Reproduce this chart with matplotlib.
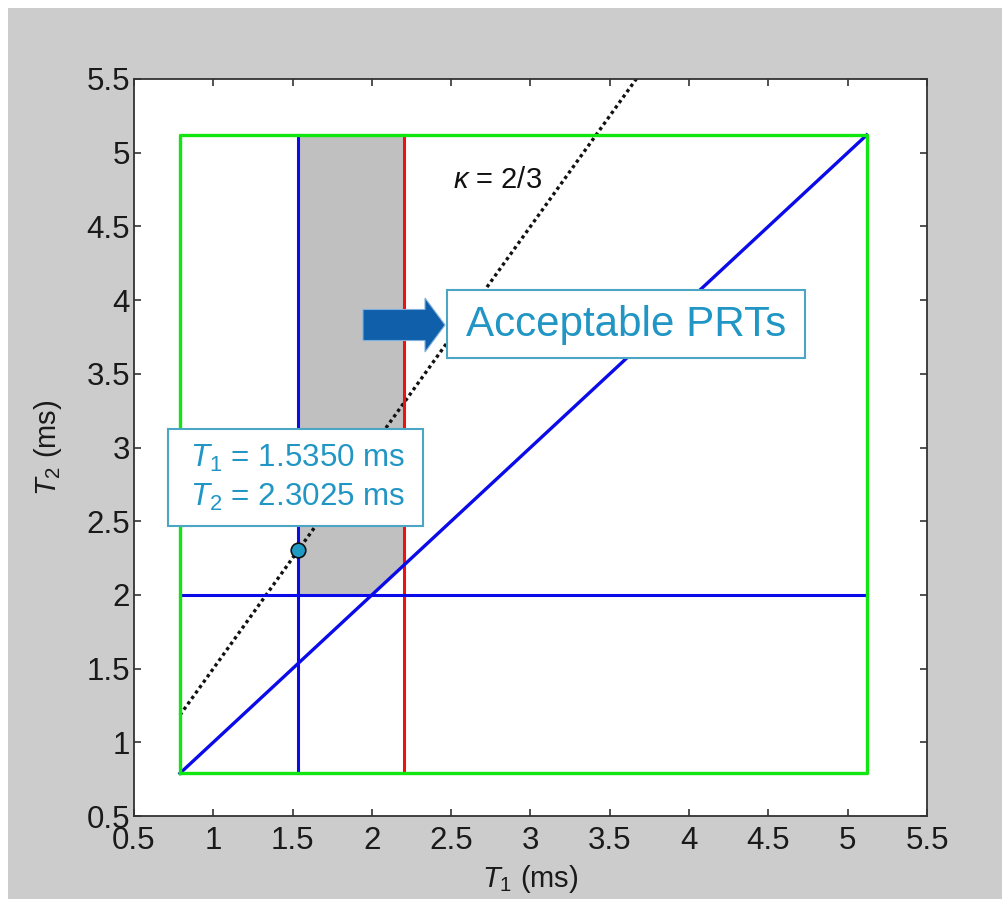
"""Dual-PRT selection chart: T1/T2 acceptable region."""

import matplotlib
matplotlib.use("Agg")
import matplotlib.pyplot as plt
from matplotlib.patches import Rectangle, FancyArrow

plt.rcParams["font.family"] = ["Liberation Sans", "DejaVu Sans"]
plt.rcParams["mathtext.fontset"] = "custom"
plt.rcParams["mathtext.rm"] = "Liberation Sans"
plt.rcParams["mathtext.it"] = "Liberation Sans:italic"

# ── data (ms) ─────────────────────────────────────────────────────────────
box_t1 = [0.79, 5.12, 5.12, 0.79, 0.79]      # green limits
box_t2 = [0.79, 0.79, 5.12, 5.12, 0.79]
diag_t1 = [0.79, 5.12]                        # T2 = T1
diag_t2 = [0.79, 5.12]
t1_min = 1.535                                # blue vertical
t1_max = 2.2                                  # red vertical
t2_min = 2.0                                  # blue horizontal
kappa_t1 = [0.79, 3.70]                       # kappa = 2/3 line
kappa_t2 = [1.185, 5.55]
region_t1 = [1.535, 2.0, 2.2, 2.2, 1.535]     # shaded acceptable PRTs
region_t2 = [2.0, 2.0, 2.2, 5.12, 5.12]
pick_t1 = [1.535]
pick_t2 = [2.3025]

ticks = [0.5, 1, 1.5, 2, 2.5, 3, 3.5, 4, 4.5, 5, 5.5]
tick_labels = ["0.5", "1", "1.5", "2", "2.5", "3", "3.5", "4", "4.5", "5", "5.5"]

W, H, DPI = 1003, 899, 100
fig = plt.figure(figsize=(W / DPI, H / DPI), dpi=DPI, facecolor="white")

# grey frame (white strip on top and left like the screenshot)
fig.patches.append(Rectangle((8 / W, 0), 1, (H - 8) / H, transform=fig.transFigure,
                             facecolor="#cccccc", edgecolor="none", zorder=-10))

ax = fig.add_axes([134 / W, (H - 816) / H, (927 - 134) / W, (816 - 79) / H])
ax.set_facecolor("white")

ax.fill(region_t1, region_t2, color="#c0c0c0", lw=0, zorder=1)
ax.plot(kappa_t1, kappa_t2, color="#111111", lw=2.4, ls=(0, (1, 1)), zorder=2)
ax.plot([t1_min, t1_min], [box_t2[0], box_t2[2]], color="#0b0bea", lw=2.2, zorder=3)
ax.plot([t1_max, t1_max], [box_t2[0], box_t2[2]], color="#ee1111", lw=2.2, zorder=3)
ax.plot([box_t1[0], box_t1[1]], [t2_min, t2_min], color="#0b0bea", lw=2.2, zorder=3)
ax.plot(diag_t1, diag_t2, color="#0b0bea", lw=2.4, zorder=3)
ax.plot(box_t1, box_t2, color="#11e611", lw=2.4, zorder=4)
ax.plot(pick_t1, pick_t2, "o", ms=10.5, mfc="#1e9cc4", mec="#111111", mew=1.2, zorder=6)

ax.text(2.51, 4.76, r"$\kappa$ = 2/3", fontsize=21, color="#111111")

ax.set_xlim(0.5, 5.5)
ax.set_ylim(0.5, 5.5)
ax.set_xticks(ticks)
ax.set_xticklabels(tick_labels)
ax.set_yticks(ticks)
ax.set_yticklabels(tick_labels)
ax.tick_params(direction="in", length=5, width=1.2, top=True, right=True,
               labelsize=22.5, colors="#333333", labelcolor="#1a1a1a")
ax.tick_params(axis="x", pad=7)
ax.tick_params(axis="y", pad=3)
for sp in ax.spines.values():
    sp.set_color("#333333")
    sp.set_linewidth(1.3)

ax.set_xlabel(r"$\mathit{T}_1$ (ms)", fontsize=21, color="#1a1a1a", labelpad=5)
ax.set_ylabel(r"$\mathit{T}_2$ (ms)", fontsize=21, color="#1a1a1a", labelpad=16)

# ── call-out boxes (pixel positions via inches) ──────────────────────────
tr = fig.dpi_scale_trans
teal = "#2196c4"

fig.patches.append(FancyArrow(3.63, (H - 325) / DPI, 0.62, 0, width=0.31,
                              head_width=0.54, head_length=0.20,
                              length_includes_head=False, transform=tr,
                              facecolor="#0f5fab", edgecolor="#7fb0dd", lw=0.8, zorder=20))

fig.patches.append(Rectangle((4.47, (H - 358) / DPI), 3.58, 0.68, transform=tr,
                             facecolor="white", edgecolor="#4aa6c4", lw=1.5, zorder=20))
fig.text(4.66, (H - 325) / DPI, "Acceptable PRTs", transform=tr, fontsize=30.3,
         color=teal, va="center", ha="left", zorder=21)

fig.patches.append(Rectangle((1.68, (H - 526) / DPI), 2.55, 0.97, transform=tr,
                             facecolor="white", edgecolor="#4aa6c4", lw=1.5, zorder=20))
fig.text(1.90, (H - 467) / DPI, r"$\mathit{T}_1$ = 1.5350 ms", transform=tr,
         fontsize=22.6, color=teal, va="baseline", ha="left", zorder=21)
fig.text(1.90, (H - 506) / DPI, r"$\mathit{T}_2$ = 2.3025 ms", transform=tr,
         fontsize=22.6, color=teal, va="baseline", ha="left", zorder=21)

fig.savefig("out.png", dpi=DPI, facecolor=fig.get_facecolor())
